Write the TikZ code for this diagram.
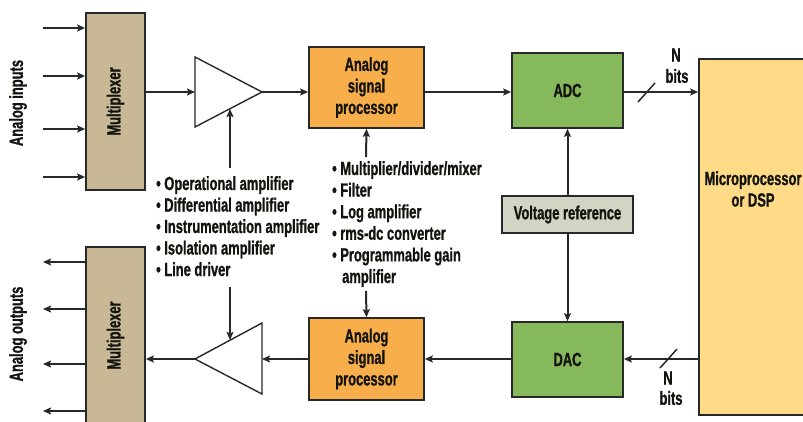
\documentclass[tikz,border=0pt]{standalone}
\usepackage{fontspec}
\setmainfont{Liberation Sans}[FakeStretch=0.68,FakeBold=1]
\usetikzlibrary{arrows.meta}
\definecolor{muxc}{RGB}{200,184,150}
\definecolor{aspc}{RGB}{249,174,76}
\definecolor{cnvc}{RGB}{134,184,92}
\definecolor{vrefc}{RGB}{210,213,195}
\definecolor{mpc}{RGB}{255,219,136}
\definecolor{edge}{RGB}{40,40,40}
\definecolor{ink}{RGB}{20,20,15}
\begin{document}
\begin{tikzpicture}[x=1pt,y=-1pt,
  box/.style={draw=edge, line width=1.7pt, inner sep=0pt, text=ink,
    font=\fontsize{19}{21.5}\selectfont\bfseries, align=center},
  lbl/.style={inner sep=0pt, text=ink, font=\fontsize{19}{21.5}\selectfont\bfseries},
  arr/.style={draw=edge, line width=2pt, -{Stealth[length=8pt,width=7pt,inset=1.5pt]}},
  ln/.style={draw=edge, line width=1.5pt},
  tri/.style={draw=edge, line width=1.4pt, fill=white, line join=miter}]
\useasboundingbox (0,0) rectangle (803,422);

% boxes
\node[box, fill=muxc, rotate=90, minimum width=177pt, minimum height=59pt] (mux1) at (115.5,101.5) {Multiplexer};
\node[box, fill=muxc, rotate=90, minimum width=177pt, minimum height=59pt] (mux2) at (115.5,335.5) {Multiplexer};
\node[box, fill=aspc, minimum width=115pt, minimum height=81pt] (asp1) at (366.5,87.5) {Analog\\signal\\processor};
\node[box, fill=aspc, minimum width=115pt, minimum height=82pt] (asp2) at (366.5,359) {Analog\\signal\\processor};
\node[box, fill=cnvc, minimum width=111pt, minimum height=75pt] (adc) at (567.5,90.5) {ADC};
\node[box, fill=cnvc, minimum width=111pt, minimum height=75pt] (dac) at (567.5,359.5) {DAC};
\node[box, fill=vrefc, minimum width=131pt, minimum height=37pt] (vref) at (567.5,214.5) {Voltage reference};
\node[box, fill=mpc, minimum width=108pt, minimum height=356pt] (mp) at (753,237) {};
\node[lbl, align=center] (mptext) at (753,189) {Microprocessor\\or DSP};

% amplifiers
\coordinate (t1a) at (195,57); \coordinate (t1b) at (195,127); \coordinate (t1c) at (262,92);
\draw[tri] (t1a) -- (t1c) -- (t1b) -- cycle;
\coordinate (t2a) at (262,323); \coordinate (t2b) at (262,394); \coordinate (t2c) at (195,359);
\draw[tri] (t2a) -- (t2c) -- (t2b) -- cycle;

% side labels
\node[lbl, rotate=90] (inlbl) at (18,103) {Analog inputs};
\node[lbl, rotate=90] (outlbl) at (18,334) {Analog outputs};

% input / output arrows
\foreach \yy in {28,76,129,177} {
  \coordinate (in) at (43,\yy);
  \draw[arr] (in) -- (mux1.north |- in);
}
\foreach \yy in {262,309,364,411} {
  \coordinate (out) at (43,\yy);
  \draw[arr] (mux2.north |- out) -- (out);
}

% top signal chain
\draw[arr] (mux1.south |- t1c) -- (t1a |- t1c);
\draw[arr] (t1c) -- (asp1.west |- t1c);
\draw[arr] (asp1.east |- t1c) -- (adc.west |- t1c);
\draw[arr] (adc.east |- t1c) -- (mp.west |- t1c);

% bottom signal chain
\draw[arr] (mp.west |- t2c) -- (dac.east |- t2c);
\draw[arr] (dac.west |- t2c) -- (asp2.east |- t2c);
\draw[arr] (asp2.west |- t2c) -- (t2a |- t2c);
\draw[arr] (t2c) -- (mux2.south |- t2c);

% voltage reference
\draw[arr] (vref.north) -- (adc.south);
\draw[arr] (vref.south) -- (dac.north);

% N bits
\coordinate (s1a) at (638,102); \coordinate (s1b) at (655,83);
\draw[ln] (s1a) -- (s1b);
\node[lbl] (n1) at (676,55) {N};
\node[lbl] (b1) at (677,76) {bits};
\coordinate (s2a) at (660,368); \coordinate (s2b) at (677,349);
\draw[ln] (s2a) -- (s2b);
\node[lbl] (n2) at (668,378) {N};
\node[lbl] (b2) at (671,398) {bits};

% amplifier list
\foreach \t [count=\i from 0] in {Operational amplifier,Differential amplifier,Instrumentation amplifier,Isolation amplifier,Line driver} {
  \node[lbl, anchor=base west] (l1\i) at (156,190+21.5*\i) {• \t};
}
\coordinate (a1s) at (230,168); \coordinate (a1e) at (230,109);
\draw[arr] (a1s) -- (a1e);
\coordinate (a2s) at (230,287); \coordinate (a2e) at (230,340);
\draw[arr] (a2s) -- (a2e);

% processor list
\foreach \t [count=\i from 0] in {Multiplier/divider/mixer,Filter,Log amplifier,rms-dc converter,Programmable gain} {
  \node[lbl, anchor=base west] (l2\i) at (332,175+21.6*\i) {• \t};
}
\node[lbl, anchor=base west] (l25) at (342,283) {amplifier};
\coordinate (p1s) at (366,157);
\draw[arr] (p1s) -- (asp1.south);
\coordinate (p2s) at (366,291);
\draw[arr] (p2s) -- (asp2.north);
\end{tikzpicture}
\end{document}
